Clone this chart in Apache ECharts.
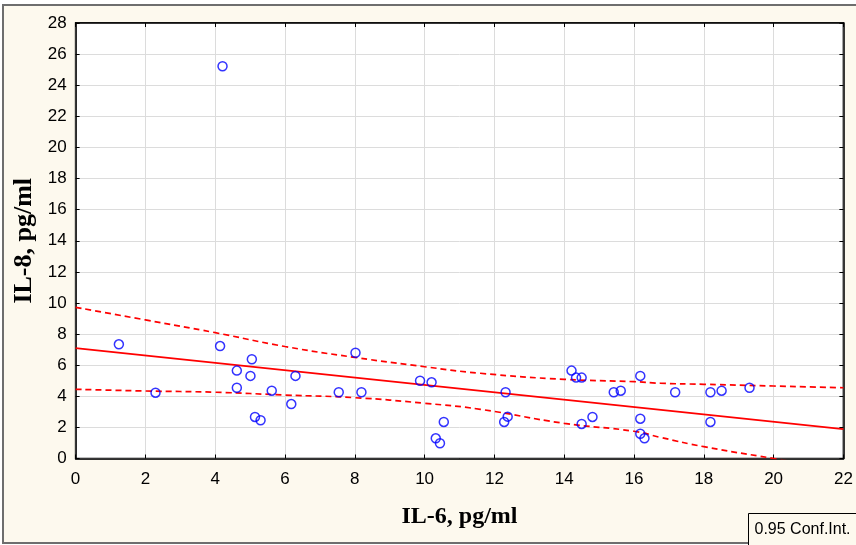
<!DOCTYPE html>
<html>
<head>
<meta charset="utf-8">
<script src="https://cdn.jsdelivr.net/npm/echarts@6/dist/echarts.min.js"></script>
<style>
  html, body { margin: 0; padding: 0; background: #ffffff; }
  #chart { width: 856px; height: 545px; }
</style>
</head>
<body>
<div id="chart"></div>
<script>
// IL-6 (x) vs IL-8 (y), pg/ml
const il6 = [1.24, 2.29, 4.21, 4.14, 4.62, 4.62, 5.05, 5.01, 5.14, 5.30, 5.62, 6.18, 6.30, 7.54, 8.02, 8.19,
  9.87, 10.20, 10.55, 10.32, 10.44, 12.32, 12.28, 12.38, 14.21, 14.34, 14.50, 14.50, 14.81, 15.42, 15.62,
  16.18, 16.18, 16.18, 16.30, 17.18, 18.19, 18.19, 18.51, 19.31];
const il8 = [7.34, 4.23, 25.22, 7.23, 5.65, 4.55, 6.38, 5.31, 2.67, 2.46, 4.36, 3.50, 5.31, 4.26, 6.80, 4.26,
  5.00, 4.90, 2.35, 1.30, 0.98, 4.26, 2.35, 2.69, 5.65, 5.20, 5.20, 2.22, 2.67, 4.26, 4.36,
  5.31, 2.56, 1.59, 1.30, 4.26, 4.26, 2.35, 4.36, 4.55];

// fitted line (end points)
const fitX = [0, 22];
const fitY = [7.1, 1.89];

// 0.95 confidence band
const bandX = [0, 2, 4, 6, 8, 10, 11.6, 14, 16, 16.75, 18, 20, 22];
const bandUpper = [9.72, 8.91, 8.09, 7.2, 6.5, 5.9, 5.48, 5.09, 4.94, 4.84, 4.77, 4.66, 4.55];
const bandLower = [4.45, 4.34, 4.26, 4.08, 3.91, 3.55, 3.16, 2.26, 1.75, 1.36, 0.76, 0.0, -0.75];

const zip = (xs, ys) => xs.map((x, i) => [x, ys[i]]);

const chart = echarts.init(document.getElementById('chart'));

const labelFont = { fontFamily: 'Liberation Sans, Arial, sans-serif', fontSize: 17, color: '#000' };
const titleFont = { fontFamily: 'Liberation Serif, Times New Roman, serif', fontWeight: 'bold', color: '#000' };

// 轴的公共样式
const axisBase = {
  type: 'value',
  axisLine: { show: true, onZero: false, lineStyle: { color: '#000', width: 1.5 } },
  axisTick: { show: true, inside: true, length: 4, lineStyle: { color: '#000' } },
};

const bandLine = {
  type: 'line',
  smooth: true,
  symbol: 'none',
  silent: true,
  lineStyle: { color: '#ff0000', width: 1.7, type: [6, 4] },
  z: 2,
};

chart.setOption({
  backgroundColor: '#ffffff',
  animation: false,
  graphic: [
    {
      type: 'rect', z: -10, silent: true,
      shape: { x: 3, y: 5, width: 862, height: 538 },
      style: { fill: '#fdf9ee', stroke: '#6e6e6e', lineWidth: 2 },
    },
    {
      type: 'group', left: 748, top: 513, z: 10,
      children: [
        { type: 'rect', shape: { x: 0, y: 0, width: 120, height: 32 }, style: { fill: '#fdf9ee', stroke: '#000', lineWidth: 1 } },
        { type: 'text', x: 6, y: 16, style: { text: '0.95 Conf.Int.', font: '16px "Liberation Sans", Arial, sans-serif', fill: '#000', textVerticalAlign: 'middle' } },
      ],
    },
  ],
  grid: {
    left: 75.6, right: 12.6, top: 23, bottom: 86.5,
    show: true, backgroundColor: '#ffffff', borderColor: '#000', borderWidth: 1.5,
  },
  xAxis: [
    Object.assign({}, axisBase, {
      min: 0, max: 22, interval: 2,
      name: 'IL-6, pg/ml', nameLocation: 'middle', nameGap: 46,
      nameTextStyle: Object.assign({}, titleFont, { fontSize: 24 }),
      axisLabel: Object.assign({}, labelFont, { margin: 12 }),
      splitLine: { show: true, lineStyle: { color: '#dcdcdc', width: 1 } },
    }),
    Object.assign({}, axisBase, {
      position: 'top', min: 0, max: 22, interval: 2,
      axisLabel: { show: false }, splitLine: { show: false },
    }),
  ],
  yAxis: [
    Object.assign({}, axisBase, {
      min: 0, max: 28, interval: 2,
      name: 'IL-8, pg/ml', nameLocation: 'middle', nameGap: 33,
      nameTextStyle: Object.assign({}, titleFont, { fontSize: 26 }),
      axisLabel: Object.assign({}, labelFont, { margin: 9 }),
      splitLine: { show: true, lineStyle: { color: '#dcdcdc', width: 1 } },
    }),
    Object.assign({}, axisBase, {
      position: 'right', min: 0, max: 28, interval: 2,
      axisLabel: { show: false }, splitLine: { show: false },
    }),
  ],
  series: [
    Object.assign({}, bandLine, { name: 'upper', data: zip(bandX, bandUpper) }),
    Object.assign({}, bandLine, { name: 'lower', data: zip(bandX, bandLower) }),
    {
      name: 'fit', type: 'line', symbol: 'none', silent: true,
      lineStyle: { color: '#ff0000', width: 1.7 },
      data: zip(fitX, fitY), z: 3,
    },
    {
      name: 'IL-8', type: 'scatter', symbol: 'circle', symbolSize: 9,
      itemStyle: { color: 'rgba(0,0,0,0)', borderColor: '#0000ff', borderWidth: 1.5 },
      data: zip(il6, il8), z: 4,
    },
  ],
});
</script>
</body>
</html>
